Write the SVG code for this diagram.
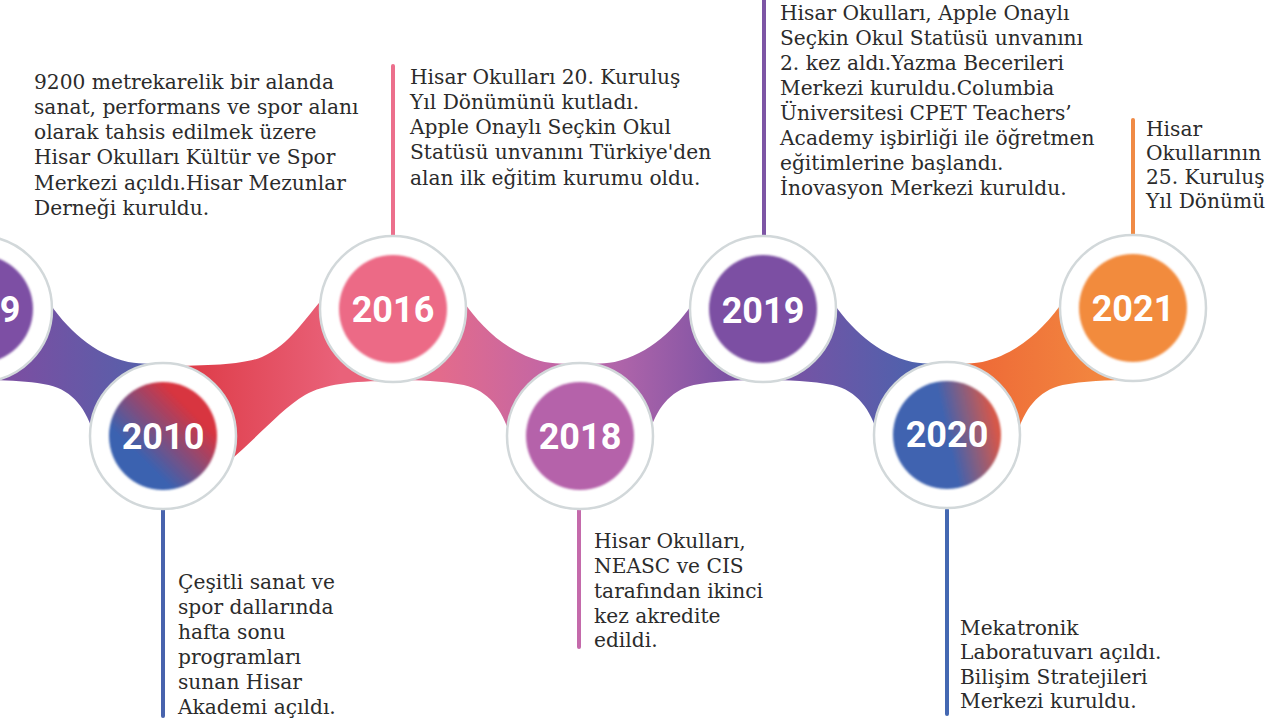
<svg xmlns="http://www.w3.org/2000/svg" width="1282" height="725" viewBox="0 0 1282 725">
<style>
.ring{fill:#ffffff;stroke:#d2d8da;stroke-width:2.5}
.disc{filter:url(#soft)}
.yr{font-family:Roboto,"DejaVu Sans",sans-serif;font-weight:700;font-size:36px;fill:#ffffff;text-anchor:middle}
.txt{font-family:"DejaVu Serif",serif;font-size:20.2px;fill:#2b2b2b}
.vl{stroke-width:4;stroke-linecap:round;fill:none}
</style>
<defs>
<filter id="soft" x="-10%" y="-10%" width="120%" height="120%"><feGaussianBlur stdDeviation="1.2"/></filter>
<path id="rib" d="M0,0 L68,-10 C88,20 115,45 150,53 C165,55 175,55 185,55 L185,127 L116,127 C108,100 95,82 70,76 C50,72 25,71 0,71 Z"/>
<linearGradient id="g0" x1="0" y1="0" x2="1" y2="0"><stop offset="0.2" stop-color="#7a4fa2"/><stop offset="0.9" stop-color="#5660aa"/></linearGradient>
<linearGradient id="g1" gradientUnits="userSpaceOnUse" x1="200" y1="0" x2="340" y2="0"><stop offset="0" stop-color="#df3f4c"/><stop offset="1" stop-color="#e9627a"/></linearGradient>
<linearGradient id="g2" x1="0" y1="0" x2="1" y2="0"><stop offset="0.25" stop-color="#e36b8c"/><stop offset="0.85" stop-color="#c266a5"/></linearGradient>
<linearGradient id="g3" x1="0" y1="0" x2="1" y2="0"><stop offset="0.2" stop-color="#7d53a4"/><stop offset="0.85" stop-color="#b466aa"/></linearGradient>
<linearGradient id="g4" x1="0" y1="0" x2="1" y2="0"><stop offset="0.2" stop-color="#7454a5"/><stop offset="0.85" stop-color="#4d62ad"/></linearGradient>
<linearGradient id="g5" x1="0" y1="0" x2="1" y2="0"><stop offset="0.2" stop-color="#f2853f"/><stop offset="0.85" stop-color="#ee6a37"/></linearGradient>
<linearGradient id="d2010" x1="0" y1="1" x2="1" y2="0"><stop offset="0.3" stop-color="#3b62b0"/><stop offset="0.75" stop-color="#d8343f"/></linearGradient>
<linearGradient id="d2020" x1="0.1" y1="0.6" x2="1" y2="0.4"><stop offset="0.45" stop-color="#3f63b0"/><stop offset="0.95" stop-color="#d6584a"/></linearGradient>
</defs>
<rect width="1282" height="725" fill="#ffffff"/>
<g id="connectors">
<use href="#rib" fill="url(#g0)" transform="translate(-21,309) scale(0.995,1)"/>
<path fill="url(#g1)" d="M393,309 L325,296 C305,318 290,345 262,357 C245,364 215,366 163,366 L163,436 L228,462 C255,440 280,410 305,395 C325,384 350,381 393,381 Z"/>
<use href="#rib" fill="url(#g2)" transform="translate(393,309) scale(1.011,1)"/>
<use href="#rib" fill="url(#g3)" transform="translate(763,309) scale(-0.989,1)"/>
<use href="#rib" fill="url(#g4)" transform="translate(763,309) scale(0.995,1)"/>
<use href="#rib" fill="url(#g5)" transform="translate(1133,309) scale(-1.005,1)"/>
<line class="vl" x1="163" y1="510" x2="163" y2="716" stroke="#4863ad"/>
<line class="vl" x1="393" y1="66" x2="393" y2="236" stroke="#ec6f8c"/>
<line class="vl" x1="579" y1="510" x2="579" y2="647" stroke="#c46aab"/>
<line class="vl" x1="764" y1="0" x2="764" y2="236" stroke="#7d55a5"/>
<line class="vl" x1="947" y1="510" x2="947" y2="714" stroke="#4468b2"/>
<line class="vl" x1="1133" y1="120" x2="1133" y2="236" stroke="#f08a45"/>
</g>
<g id="n2009">
<circle class="ring" cx="-21" cy="309" r="73"/>
<circle class="disc" cx="-21" cy="309" r="54" fill="#7d50a4"/>
<text class="yr" x="-21" y="322">2009</text>
<text class="txt"><tspan x="34" y="89">9200 metrekarelik bir alanda</tspan><tspan x="34" y="114">sanat, performans ve spor alanı</tspan><tspan x="34" y="139">olarak tahsis edilmek üzere</tspan><tspan x="34" y="164">Hisar Okulları Kültür ve Spor</tspan><tspan x="34" y="190">Merkezi açıldı.Hisar Mezunlar</tspan><tspan x="34" y="215">Derneği kuruldu.</tspan></text>
</g>
<g id="n2010">
<circle class="ring" cx="163" cy="436" r="73"/>
<circle class="disc" cx="163" cy="436" r="54" fill="url(#d2010)"/>
<text class="yr" x="163" y="449">2010</text>
<text class="txt"><tspan x="178" y="589">Çeşitli sanat ve</tspan><tspan x="178" y="614">spor dallarında</tspan><tspan x="178" y="639">hafta sonu</tspan><tspan x="178" y="664">programları</tspan><tspan x="178" y="689">sunan Hisar</tspan><tspan x="178" y="714">Akademi açıldı.</tspan></text>
</g>
<g id="n2016">
<circle class="ring" cx="393" cy="309" r="73"/>
<circle class="disc" cx="393" cy="309" r="54" fill="#ec6b86"/>
<text class="yr" x="393" y="322">2016</text>
<text class="txt"><tspan x="410" y="84">Hisar Okulları 20. Kuruluş</tspan><tspan x="410" y="109">Yıl Dönümünü kutladı.</tspan><tspan x="410" y="134">Apple Onaylı Seçkin Okul</tspan><tspan x="410" y="159">Statüsü unvanını Türkiye'den</tspan><tspan x="410" y="185">alan ilk eğitim kurumu oldu.</tspan></text>
</g>
<g id="n2018">
<circle class="ring" cx="580" cy="436" r="73"/>
<circle class="disc" cx="580" cy="436" r="54" fill="#b562aa"/>
<text class="yr" x="580" y="449">2018</text>
<text class="txt"><tspan x="594" y="548">Hisar Okulları,</tspan><tspan x="594" y="573">NEASC ve CIS</tspan><tspan x="594" y="598">tarafından ikinci</tspan><tspan x="594" y="623">kez akredite</tspan><tspan x="594" y="647">edildi.</tspan></text>
</g>
<g id="n2019">
<circle class="ring" cx="763" cy="309" r="73"/>
<circle class="disc" cx="763" cy="309" r="54" fill="#7c4fa3"/>
<text class="yr" x="763" y="323">2019</text>
<text class="txt"><tspan x="780" y="20">Hisar Okulları, Apple Onaylı</tspan><tspan x="780" y="45">Seçkin Okul Statüsü unvanını</tspan><tspan x="780" y="70">2. kez aldı.Yazma Becerileri</tspan><tspan x="780" y="95">Merkezi kuruldu.Columbia</tspan><tspan x="780" y="120">Üniversitesi CPET Teachers’</tspan><tspan x="780" y="145">Academy işbirliği ile öğretmen</tspan><tspan x="780" y="170">eğitimlerine başlandı.</tspan><tspan x="780" y="195">İnovasyon Merkezi kuruldu.</tspan></text>
</g>
<g id="n2020">
<circle class="ring" cx="947" cy="435" r="73"/>
<circle class="disc" cx="947" cy="435" r="54" fill="url(#d2020)"/>
<text class="yr" x="947" y="447">2020</text>
<text class="txt"><tspan x="960" y="635">Mekatronik</tspan><tspan x="960" y="659">Laboratuvarı açıldı.</tspan><tspan x="960" y="684">Bilişim Stratejileri</tspan><tspan x="960" y="708">Merkezi kuruldu.</tspan></text>
</g>
<g id="n2021">
<circle class="ring" cx="1133" cy="308" r="73"/>
<circle class="disc" cx="1133" cy="308" r="54" fill="#f28b3e"/>
<text class="yr" x="1133" y="321">2021</text>
<text class="txt"><tspan x="1146" y="136">Hisar</tspan><tspan x="1146" y="160">Okullarının</tspan><tspan x="1146" y="184">25. Kuruluş</tspan><tspan x="1146" y="208">Yıl Dönümü</tspan></text>
</g>
</svg>
